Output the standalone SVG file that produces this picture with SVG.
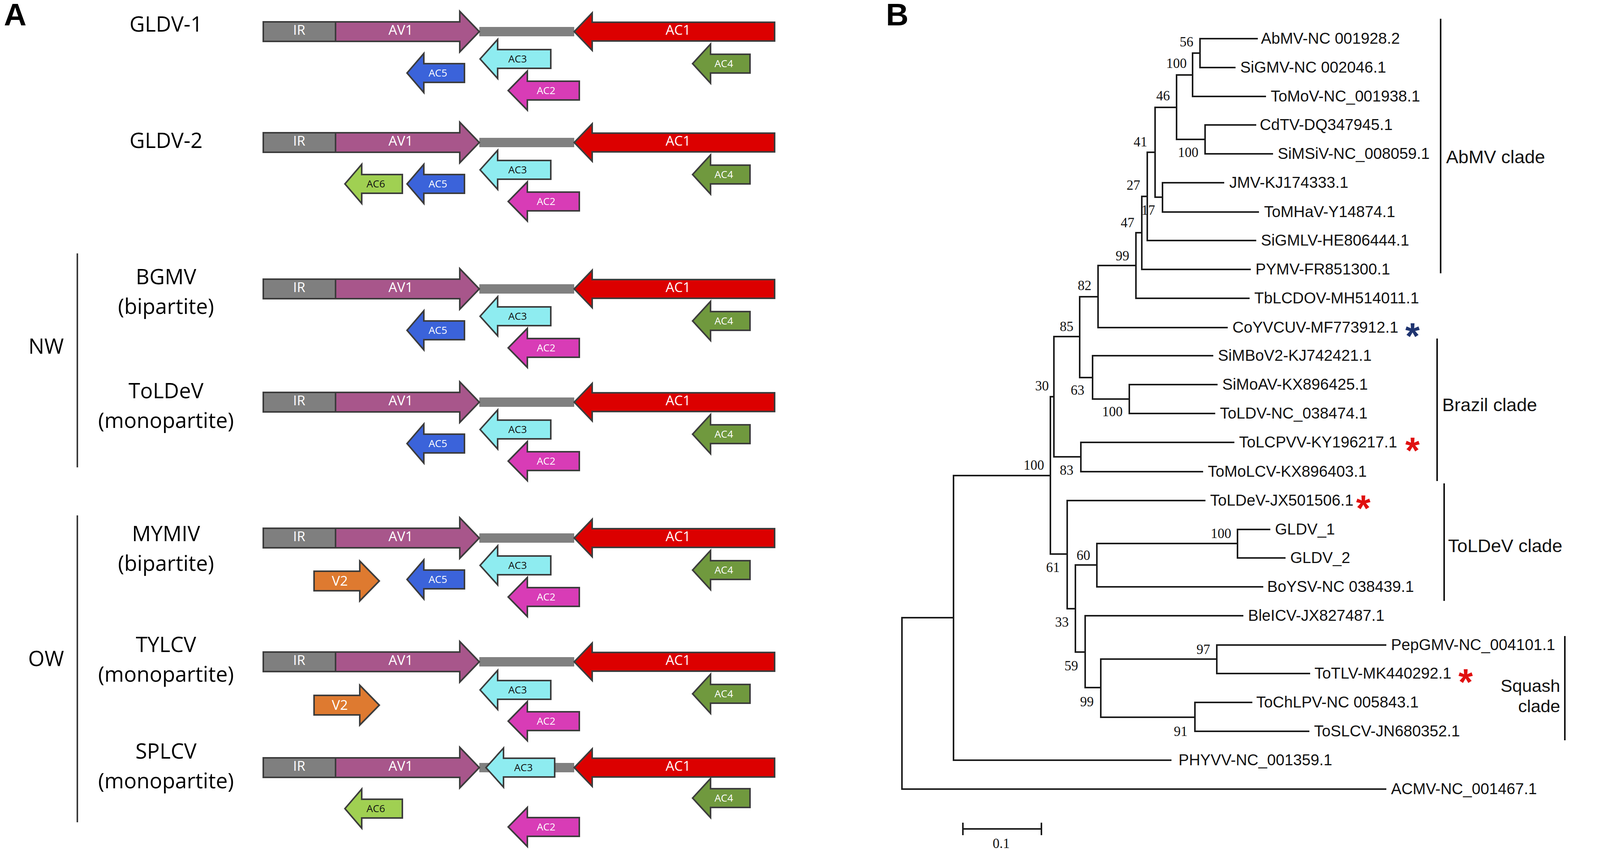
<svg xmlns="http://www.w3.org/2000/svg" xmlns:xlink="http://www.w3.org/1999/xlink" width="4317" height="2177" viewBox="0 0 4317 2177">
<style>
.bg{fill:#fff}
.stk{stroke:#3c3c3c;stroke-width:4;stroke-linejoin:miter}
.ir{fill:#7f7f7f}
.av1{fill:#a8568b}
.ac1{fill:#dc0000}
.ig{fill:#808080}
.ac3{fill:#8eecf0}
.ac5{fill:#3b63da}
.ac2{fill:#d83cb6}
.ac4{fill:#70993e}
.ac6{fill:#a0d052}
.v2{fill:#de7a30}
.lbl{font-family:'Open Sans','Noto Sans',sans-serif;font-size:54px;text-anchor:middle;fill:#000}
.gb{font-family:'Open Sans','Noto Sans',sans-serif;font-size:35px;fill:#fff;text-anchor:middle}
.gs{font-family:'Open Sans','Noto Sans',sans-serif;font-size:26px;fill:#fff;text-anchor:middle}
.dk{fill:#111}
.panel{font-family:'Liberation Sans',Arial,sans-serif;font-weight:bold;font-size:80px;fill:#000}
.leaf{font-family:'Liberation Sans',Arial,sans-serif;font-size:40px;fill:#111}
.clade{font-family:'Liberation Sans',Arial,sans-serif;font-size:47px;fill:#111}
.bs{font-family:'Liberation Serif','Times New Roman',serif;font-size:35px;text-anchor:end;fill:#111}
.tree{stroke:#1a1a1a;stroke-width:4;fill:none;stroke-linecap:square}
.bar{stroke:#111;stroke-width:4;fill:none}
.ast{font-family:'Liberation Sans',Arial,sans-serif;font-weight:bold;font-size:95px;text-anchor:middle}
</style>
<defs>
<rect id="igl" x="1227" y="-12" width="243" height="24"/>
<rect id="irb" x="674" y="-25" width="185" height="50"/>
<polygon id="av1a" points="859,-25 1177,-25 1177,-52 1227,0 1177,52 1177,25 859,25"/>
<polygon id="ac1a" points="1470,0 1516,-48 1516,-24 1983,-24 1983,24 1516,24 1516,48"/>
<polygon id="ac3a" points="1229,0 1274,-50 1274,-24 1410,-24 1410,24 1274,24 1274,50"/>
<polygon id="ac3s" points="1244,0 1289,-50 1289,-24 1420,-24 1420,24 1289,24 1289,50"/>
<polygon id="ac5a" points="1042,0 1085,-50 1085,-24 1189,-24 1189,24 1085,24 1085,50"/>
<polygon id="ac2a" points="1301,0 1350,-50 1350,-24 1483,-24 1483,24 1350,24 1350,50"/>
<polygon id="ac4a" points="1773,0 1819,-50 1819,-24 1920,-24 1920,24 1819,24 1819,50"/>
<polygon id="ac6a" points="883,0 926,-50 926,-24 1030,-24 1030,24 926,24 926,50"/>
<polygon id="v2a" points="804,-25 921,-25 921,-51 971,0 921,51 921,25 804,25"/>
</defs>
<rect class="bg" x="0" y="0" width="4317" height="2177"/>

<text class="panel" x="10" y="65">A</text>
<text class="panel" x="2268" y="65">B</text>

<g id="group-labels">
<line x1="198" y1="649" x2="198" y2="1197" stroke="#3a3a3a" stroke-width="4"/>
<line x1="198" y1="1320" x2="198" y2="2106" stroke="#3a3a3a" stroke-width="4"/>
<text class="lbl" x="118" y="906">NW</text>
<text class="lbl" x="118" y="1706">OW</text>
</g>

<g id="row-gldv1" transform="translate(0,81)">
<use href="#igl" class="ig"/>
<use href="#irb" class="ir stk"/>
<use href="#av1a" class="av1 stk"/>
<use href="#ac1a" class="ac1 stk"/>
<text class="gb" x="766" y="8">IR</text><text class="gb" x="1026" y="8">AV1</text><text class="gb" x="1736" y="8">AC1</text>
<use href="#ac3a" y="70" class="ac3 stk"/><text class="gs dk" x="1325" y="79">AC3</text>
<use href="#ac5a" y="106" class="ac5 stk"/><text class="gs" x="1121" y="115">AC5</text>
<use href="#ac2a" y="151" class="ac2 stk"/><text class="gs" x="1398" y="160">AC2</text>
<use href="#ac4a" y="82" class="ac4 stk"/><text class="gs" x="1853" y="91">AC4</text>
<text class="lbl" x="425" y="0">GLDV-1</text>
</g>

<g id="row-gldv2" transform="translate(0,365)">
<use href="#igl" class="ig"/>
<use href="#irb" class="ir stk"/>
<use href="#av1a" class="av1 stk"/>
<use href="#ac1a" class="ac1 stk"/>
<text class="gb" x="766" y="8">IR</text><text class="gb" x="1026" y="8">AV1</text><text class="gb" x="1736" y="8">AC1</text>
<use href="#ac3a" y="70" class="ac3 stk"/><text class="gs dk" x="1325" y="79">AC3</text>
<use href="#ac6a" y="106" class="ac6 stk"/><text class="gs dk" x="962" y="115">AC6</text>
<use href="#ac5a" y="106" class="ac5 stk"/><text class="gs" x="1121" y="115">AC5</text>
<use href="#ac2a" y="151" class="ac2 stk"/><text class="gs" x="1398" y="160">AC2</text>
<use href="#ac4a" y="82" class="ac4 stk"/><text class="gs" x="1853" y="91">AC4</text>
<text class="lbl" x="425" y="14">GLDV-2</text>
</g>

<g id="row-bgmv" transform="translate(0,740)">
<use href="#igl" class="ig"/>
<use href="#irb" class="ir stk"/>
<use href="#av1a" class="av1 stk"/>
<use href="#ac1a" class="ac1 stk"/>
<text class="gb" x="766" y="8">IR</text><text class="gb" x="1026" y="8">AV1</text><text class="gb" x="1736" y="8">AC1</text>
<use href="#ac3a" y="70" class="ac3 stk"/><text class="gs dk" x="1325" y="79">AC3</text>
<use href="#ac5a" y="106" class="ac5 stk"/><text class="gs" x="1121" y="115">AC5</text>
<use href="#ac2a" y="151" class="ac2 stk"/><text class="gs" x="1398" y="160">AC2</text>
<use href="#ac4a" y="82" class="ac4 stk"/><text class="gs" x="1853" y="91">AC4</text>
<text class="lbl" x="425" y="-12">BGMV</text>
<text class="lbl" x="425" y="64">(bipartite)</text>
</g>

<g id="row-toldev" transform="translate(0,1030)">
<use href="#igl" class="ig"/>
<use href="#irb" class="ir stk"/>
<use href="#av1a" class="av1 stk"/>
<use href="#ac1a" class="ac1 stk"/>
<text class="gb" x="766" y="8">IR</text><text class="gb" x="1026" y="8">AV1</text><text class="gb" x="1736" y="8">AC1</text>
<use href="#ac3a" y="70" class="ac3 stk"/><text class="gs dk" x="1325" y="79">AC3</text>
<use href="#ac5a" y="106" class="ac5 stk"/><text class="gs" x="1121" y="115">AC5</text>
<use href="#ac2a" y="151" class="ac2 stk"/><text class="gs" x="1398" y="160">AC2</text>
<use href="#ac4a" y="82" class="ac4 stk"/><text class="gs" x="1853" y="91">AC4</text>
<text class="lbl" x="425" y="-10">ToLDeV</text>
<text class="lbl" x="425" y="66">(monopartite)</text>
</g>

<g id="row-mymiv" transform="translate(0,1378)">
<use href="#igl" class="ig"/>
<use href="#irb" class="ir stk"/>
<use href="#av1a" class="av1 stk"/>
<use href="#ac1a" class="ac1 stk"/>
<text class="gb" x="766" y="8">IR</text><text class="gb" x="1026" y="8">AV1</text><text class="gb" x="1736" y="8">AC1</text>
<use href="#ac3a" y="70" class="ac3 stk"/><text class="gs dk" x="1325" y="79">AC3</text>
<use href="#v2a" y="110" class="v2 stk"/><text class="gb" x="870" y="122">V2</text>
<use href="#ac5a" y="106" class="ac5 stk"/><text class="gs" x="1121" y="115">AC5</text>
<use href="#ac2a" y="151" class="ac2 stk"/><text class="gs" x="1398" y="160">AC2</text>
<use href="#ac4a" y="82" class="ac4 stk"/><text class="gs" x="1853" y="91">AC4</text>
<text class="lbl" x="425" y="8">MYMIV</text>
<text class="lbl" x="425" y="84">(bipartite)</text>
</g>

<g id="row-tylcv" transform="translate(0,1695)">
<use href="#igl" class="ig"/>
<use href="#irb" class="ir stk"/>
<use href="#av1a" class="av1 stk"/>
<use href="#ac1a" class="ac1 stk"/>
<text class="gb" x="766" y="8">IR</text><text class="gb" x="1026" y="8">AV1</text><text class="gb" x="1736" y="8">AC1</text>
<use href="#ac3a" y="72" class="ac3 stk"/><text class="gs dk" x="1325" y="81">AC3</text>
<use href="#v2a" y="111" class="v2 stk"/><text class="gb" x="870" y="123">V2</text>
<use href="#ac2a" y="152" class="ac2 stk"/><text class="gs" x="1398" y="161">AC2</text>
<use href="#ac4a" y="82" class="ac4 stk"/><text class="gs" x="1853" y="91">AC4</text>
<text class="lbl" x="425" y="-25">TYLCV</text>
<text class="lbl" x="425" y="51">(monopartite)</text>
</g>

<g id="row-splcv" transform="translate(0,1966)">
<use href="#igl" class="ig"/>
<use href="#irb" class="ir stk"/>
<use href="#av1a" class="av1 stk"/>
<use href="#ac1a" class="ac1 stk"/>
<text class="gb" x="766" y="8">IR</text><text class="gb" x="1026" y="8">AV1</text><text class="gb" x="1736" y="8">AC1</text>
<use href="#ac3s" class="ac3 stk"/><text class="gs dk" x="1340" y="9">AC3</text>
<use href="#ac6a" y="105" class="ac6 stk"/><text class="gs dk" x="962" y="114">AC6</text>
<use href="#ac2a" y="152" class="ac2 stk"/><text class="gs" x="1398" y="161">AC2</text>
<use href="#ac4a" y="78" class="ac4 stk"/><text class="gs" x="1853" y="87">AC4</text>
<text class="lbl" x="425" y="-23">SPLCV</text>
<text class="lbl" x="425" y="53">(monopartite)</text>
</g>

<g id="connectors" class="tree">
<path d="M3072,99V173 M3072,99H3218 M3072,173H3161"/>
<path d="M3053,136V247 M3053,136H3072 M3053,247H3239"/>
<path d="M3085,320V394 M3085,320H3214 M3085,394H3257"/>
<path d="M3012,192V357 M3012,192H3053 M3012,357H3085"/>
<path d="M2976,468V543 M2976,468H3132 M2976,543H3221"/>
<path d="M2957,275V505 M2957,275H3012 M2957,505H2976"/>
<path d="M2937,390V616 M2937,390H2957 M2937,616H3214"/>
<path d="M2923,503V690 M2923,503H2937 M2923,690H3200"/>
<path d="M2908,596V764 M2908,596H2923 M2908,764H3197"/>
<path d="M2811,680V839 M2811,680H2908 M2811,839H3141"/>
<path d="M2891,985V1059 M2891,985H3115 M2891,1059H3109"/>
<path d="M2797,911V1022 M2797,911H3104 M2797,1022H2891"/>
<path d="M2764,760V967 M2764,760H2811 M2764,967H2797"/>
<path d="M2767,1133V1208 M2767,1133H3158 M2767,1208H3078"/>
<path d="M2698,862V1170 M2698,862H2764 M2698,1170H2767"/>
<path d="M2689,1016V1419 M2689,1016H2698 M2689,1419H2732"/>
<path d="M3168,1356V1429 M3168,1356H3250 M3168,1429H3289"/>
<path d="M2808,1392V1503 M2808,1392H3168 M2808,1503H3232"/>
<path d="M3115,1652V1725 M3115,1652H3547 M3115,1725H3352"/>
<path d="M3059,1799V1873 M3059,1799H3204 M3059,1873H3350"/>
<path d="M2818,1688V1837 M2818,1688H3115 M2818,1837H3059"/>
<path d="M2778,1577V1761 M2778,1577H3181 M2778,1761H2818"/>
<path d="M2753,1447V1670 M2753,1447H2808 M2753,1670H2778"/>
<path d="M2732,1282V1559 M2732,1282H3084 M2732,1559H2753"/>
<path d="M2441,1218V1947 M2441,1218H2689 M2441,1947H2997"/>
<path d="M2309,1582V2021 M2309,1582H2441 M2309,2021H3547"/>
</g>

<g id="bootstrap">
<text class="bs" x="3055" y="119">56</text>
<text class="bs" x="3038" y="174">100</text>
<text class="bs" x="2995" y="257">46</text>
<text class="bs" x="3068" y="402">100</text>
<text class="bs" x="2937" y="375">41</text>
<text class="bs" x="2919" y="486">27</text>
<text class="bs" x="2957" y="550">17</text>
<text class="bs" x="2904" y="582">47</text>
<text class="bs" x="2891" y="667">99</text>
<text class="bs" x="2794" y="743">82</text>
<text class="bs" x="2748" y="848">85</text>
<text class="bs" x="2776" y="1011">63</text>
<text class="bs" x="2874" y="1066">100</text>
<text class="bs" x="2685" y="1000">30</text>
<text class="bs" x="2748" y="1216">83</text>
<text class="bs" x="2673" y="1203">100</text>
<text class="bs" x="2713" y="1465">61</text>
<text class="bs" x="2791" y="1434">60</text>
<text class="bs" x="3152" y="1378">100</text>
<text class="bs" x="2736" y="1605">33</text>
<text class="bs" x="2760" y="1717">59</text>
<text class="bs" x="2800" y="1809">99</text>
<text class="bs" x="3098" y="1675">97</text>
<text class="bs" x="3040" y="1885">91</text>
</g>

<g id="leaves">
<text id="t-abmv" class="leaf" x="3228" y="112">AbMV-NC 001928.2</text>
<text id="t-sigmv" class="leaf" x="3175" y="186">SiGMV-NC 002046.1</text>
<text id="t-tomov" class="leaf" x="3253" y="260">ToMoV-NC_001938.1</text>
<text id="t-cdtv" class="leaf" x="3225" y="333">CdTV-DQ347945.1</text>
<text id="t-simsiv" class="leaf" x="3271" y="407">SiMSiV-NC_008059.1</text>
<text id="t-jmv" class="leaf" x="3147" y="481">JMV-KJ174333.1</text>
<text id="t-tomhav" class="leaf" x="3236" y="556">ToMHaV-Y14874.1</text>
<text id="t-sigmlv" class="leaf" x="3228" y="629">SiGMLV-HE806444.1</text>
<text id="t-pymv" class="leaf" x="3214" y="703">PYMV-FR851300.1</text>
<text id="t-tblcdov" class="leaf" x="3211" y="777">TbLCDOV-MH514011.1</text>
<text id="t-coyvcuv" class="leaf" x="3155" y="852">CoYVCUV-MF773912.1</text>
<text id="t-simbov2" class="leaf" x="3118" y="924">SiMBoV2-KJ742421.1</text>
<text id="t-simoav" class="leaf" x="3129" y="998">SiMoAV-KX896425.1</text>
<text id="t-toldv" class="leaf" x="3123" y="1072">ToLDV-NC_038474.1</text>
<text id="t-tolcpvv" class="leaf" x="3172" y="1146">ToLCPVV-KY196217.1</text>
<text id="t-tomolcv" class="leaf" x="3092" y="1221">ToMoLCV-KX896403.1</text>
<text id="t-toldev" class="leaf" x="3098" y="1295">ToLDeV-JX501506.1</text>
<text id="t-gldv1" class="leaf" x="3264" y="1369">GLDV_1</text>
<text id="t-gldv2" class="leaf" x="3303" y="1442">GLDV_2</text>
<text id="t-boysv" class="leaf" x="3244" y="1516">BoYSV-NC 038439.1</text>
<text id="t-bleicv" class="leaf" x="3195" y="1590">BleICV-JX827487.1</text>
<text id="t-pepgmv" class="leaf" x="3561" y="1665">PepGMV-NC_004101.1</text>
<text id="t-totlv" class="leaf" x="3365" y="1738">ToTLV-MK440292.1</text>
<text id="t-tochlpv" class="leaf" x="3216" y="1812">ToChLPV-NC 005843.1</text>
<text id="t-toslcv" class="leaf" x="3364" y="1886">ToSLCV-JN680352.1</text>
<text id="t-phyvv" class="leaf" x="3017" y="1960">PHYVV-NC_001359.1</text>
<text id="t-acmv" class="leaf" x="3561" y="2034">ACMV-NC_001467.1</text>
<text class="ast" x="3616" y="893" fill="#1f3470">*</text>
<text class="ast" x="3616" y="1186" fill="#e01010">*</text>
<text class="ast" x="3490" y="1334" fill="#e01010">*</text>
<text class="ast" x="3752" y="1779" fill="#e01010">*</text>
</g>

<g id="clades">
<line class="bar" x1="3688" y1="48" x2="3688" y2="700"/>
<text class="clade" x="3702" y="418">AbMV clade</text>
<line class="bar" x1="3679" y1="867" x2="3679" y2="1232"/>
<text class="clade" x="3692" y="1053">Brazil clade</text>
<line class="bar" x1="3697" y1="1238" x2="3697" y2="1539"/>
<text class="clade" x="3707" y="1414">ToLDeV clade</text>
<line class="bar" x1="4006" y1="1629" x2="4006" y2="1896"/>
<text class="clade" style="font-size:45px;text-anchor:end"><tspan x="3994" y="1772">Squash</tspan><tspan x="3994" y="1824">clade</tspan></text>
</g>

<g id="scalebar">
<path class="tree" d="M2465,2123H2666 M2465,2109V2137 M2666,2109V2137"/>
<text class="bs" x="2563" y="2172" style="text-anchor:middle">0.1</text>
</g>
</svg>
